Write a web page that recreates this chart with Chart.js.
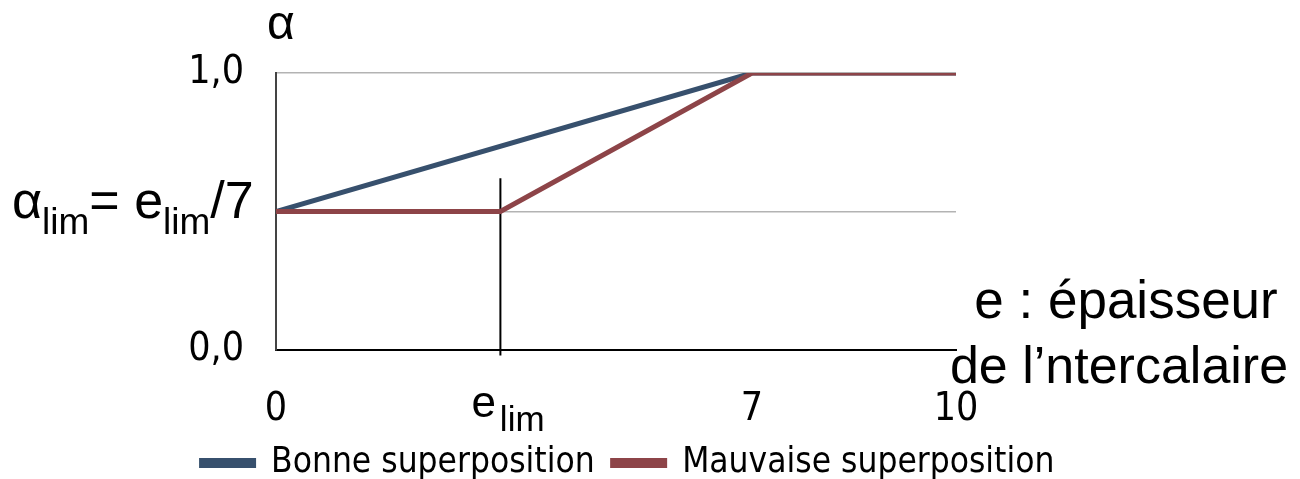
<!DOCTYPE html>
<html><head><meta charset="utf-8">
<script src="https://cdn.jsdelivr.net/npm/chart.js@4.4.0/dist/chart.umd.min.js"></script>
<style>html,body{margin:0;padding:0;background:#fff}#wrap{width:1300px;height:479px}</style>
</head><body><div id="wrap"><canvas id="c" width="1300" height="479"></canvas></div>
<script>
const seriesNames = ['Bonne superposition', 'Mauvaise superposition'];
const bonneX = [0, 7, 10];
const bonneY = [0.5, 1, 1];
const mauvaiseX = [0, 3.3, 7, 10];
const mauvaiseY = [0.5, 0.5, 1, 1];
const elimX = [3.3, 3.3];
const elimY = [0.62, -0.02];
const xTickValues = [0, 7, 10];
const xTickLabels = ['0', '7', '10'];
const yTickValues = [0, 0.5, 1];
const yTickLabels = ['0,0', '', '1,0'];

const narrow = "'Liberation Sans Narrow','Arial Narrow','DejaVu Sans Condensed',sans-serif";
const tickFont = {family: narrow, size: 39};
const legendFont = {family: narrow, size: 35};
const toPts = (xs, ys) => xs.map((x, i) => ({x, y: ys[i]}));
const X_AXIS_H = 79;

const annot = {
  id: 'annot',
  afterLayout(chart) {
    const lg = chart.legend;
    const shift = 463 - (lg.top + lg.options.labels.padding + 17.5);
    lg.top += shift; lg.bottom += shift;
  },
  afterDraw(chart) {
    const ctx = chart.ctx, xs = chart.scales.x, ys = chart.scales.y;
    ctx.save();
    ctx.fillStyle = '#000';
    ctx.textBaseline = 'alphabetic';
    const F = n => n + "px 'Liberation Sans', Arial, sans-serif";
    // alpha axis title
    ctx.font = F(48); ctx.textAlign = 'left';
    ctx.fillText('α', 267, 39);
    // alpha_lim = e_lim/7
    const gy = ys.getPixelForValue(0.5);
    let x = 12;
    const parts = [['α', 52, 6], ['lim', 37, 22], ['= e', 52, 6], ['lim', 37, 22], ['/7', 52, 6]];
    for (const [t, s, dy] of parts) { ctx.font = F(s); ctx.fillText(t, x, gy + dy); x += ctx.measureText(t).width; }
    // e_lim under axis
    const ex = xs.getPixelForValue(elimX[0]);
    ctx.font = F(44); const w1 = ctx.measureText('e').width;
    const sx = ex - 29;
    ctx.fillText('e', sx, 417);
    ctx.font = F(35); ctx.fillText('lim', sx + w1 + 4, 431);
    // x title
    ctx.font = F(53); ctx.textAlign = 'center';
    ctx.fillText('e : épaisseur', 1126, 318);
    ctx.font = F(52);
    ctx.fillText('de l’ntercalaire', 1119, 383);
    ctx.restore();
  }
};

const chart = new Chart(document.getElementById('c'), {
  type: 'line',
  data: {
    datasets: [
      {label: seriesNames[1], data: toPts(mauvaiseX, mauvaiseY), borderColor: '#8d4448', backgroundColor: '#8d4448', borderWidth: 5, pointRadius: 0, tension: 0},
      {label: seriesNames[0], data: toPts(bonneX, bonneY), borderColor: '#37506d', backgroundColor: '#37506d', borderWidth: 5, pointRadius: 0, tension: 0},
      {label: 'elim', data: toPts(elimX, elimY), borderColor: '#000', borderWidth: 2, pointRadius: 0, clip: false}
    ]
  },
  options: {
    responsive: false, animation: false,
    layout: {padding: {left: 0, right: 44, top: 73, bottom: 0}},
    plugins: {
      tooltip: {enabled: false},
      legend: {
        position: 'bottom',
        labels: {
          filter: item => item.datasetIndex < 2,
          sort: (a, b) => b.datasetIndex - a.datasetIndex,
          boxWidth: 52, boxHeight: 5, padding: 18,
          font: legendFont, color: '#000'
        }
      }
    },
    scales: {
      x: {
        type: 'linear', min: 0, max: 10,
        afterBuildTicks: s => { s.ticks = xTickValues.map(v => ({value: v})); },
        afterFit: s => { s.height = X_AXIS_H; },
        ticks: {font: tickFont, color: '#000', padding: 36, maxRotation: 0,
          callback: (v) => { const i = xTickValues.indexOf(v); return i >= 0 ? xTickLabels[i] : ''; }},
        grid: {display: false, drawTicks: false},
        border: {color: '#000', width: 2}
      },
      y: {
        min: 0, max: 1,
        afterBuildTicks: s => { s.ticks = yTickValues.map(v => ({value: v})); },
        afterFit: s => { s.width = 276; },
        ticks: {font: tickFont, color: '#000', padding: 32,
          callback: (v) => { const i = yTickValues.indexOf(v); return i >= 0 ? yTickLabels[i] : ''; }},
        grid: {color: '#b3b3b3', lineWidth: 1.5, drawTicks: false},
        border: {color: '#444', width: 2}
      },
      y2: {
        position: 'right', min: 0, max: 1,
        afterFit: s => { s.width = 300; },
        ticks: {display: false}, grid: {display: false, drawTicks: false}, border: {display: false}
      }
    }
  },
  plugins: [annot]
});
// second pass: make the plot area bottom land at y = 350
const extra = chart.chartArea.bottom - 350;
if (Math.abs(extra) > 0.5) {
  chart.options.layout.padding.bottom = extra;
  chart.update();
}
</script></body></html>
